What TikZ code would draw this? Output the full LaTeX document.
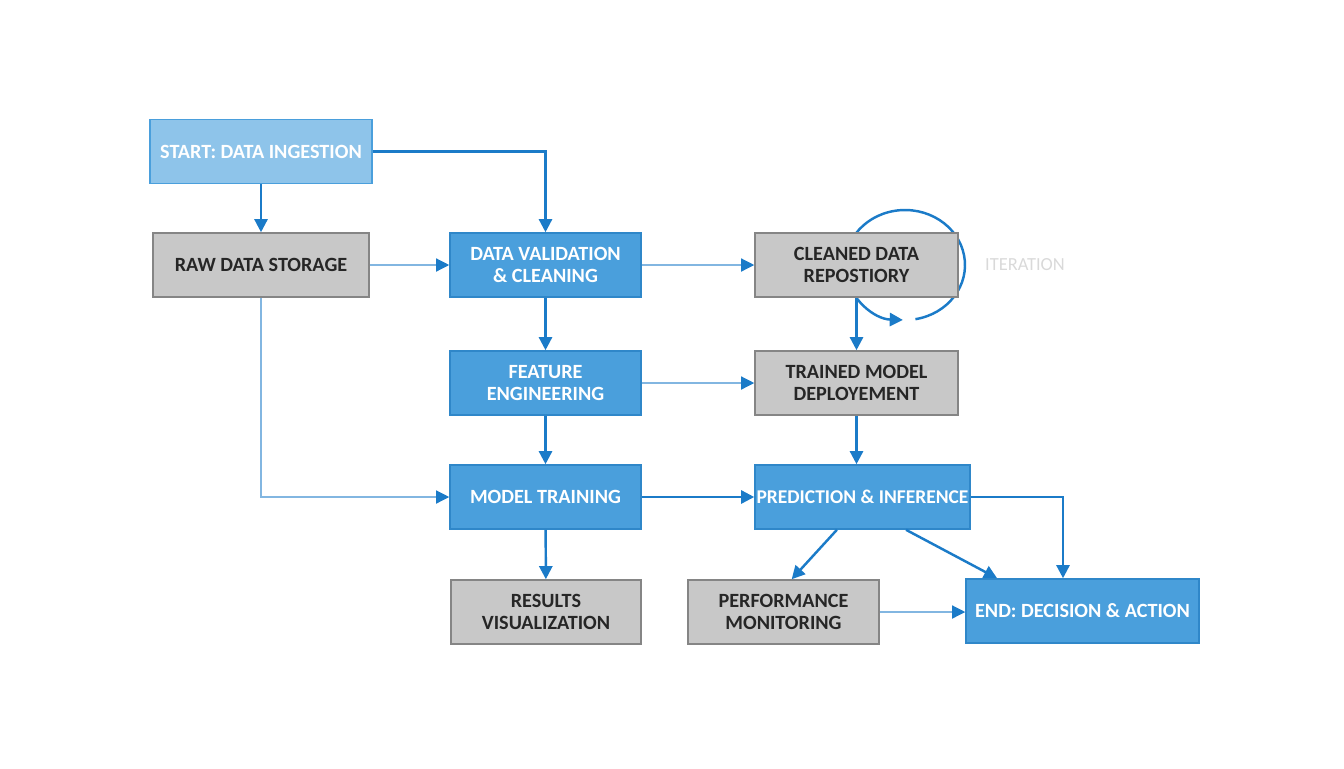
\documentclass[tikz,border=0pt]{standalone}
\usepackage{fontspec}
\setmainfont{Carlito}
\usetikzlibrary{arrows.meta}
\definecolor{flowblue}{HTML}{1B7BC8}
\definecolor{boxblue}{HTML}{4A9FDC}
\definecolor{boxblueline}{HTML}{2F87C9}
\definecolor{startblue}{HTML}{8EC4EA}
\definecolor{boxgray}{HTML}{C8C8C8}
\definecolor{boxgrayline}{HTML}{858585}
\def\boxh{1.28cm}
\def\boxw{3.82cm}
\tikzset{
	stage/.style={draw=boxblueline, fill=boxblue, text=white, font=\bfseries\fontsize{11.5}{13}\selectfont,
		align=center, minimum height=\boxh, minimum width=\boxw, inner sep=2pt, line width=0.9pt},
	store/.style={stage, draw=boxgrayline, fill=boxgray, text=black!85},
	startstage/.style={stage, fill=startblue, draw=boxblue},
	flow/.style={draw=flowblue, line width=1.4pt, -{Triangle[length=7.5pt,width=7.5pt,color=flowblue]}},
	thinflow/.style={flow, line width=0.7pt, draw=flowblue!55}
}

\begin{document}
\begin{tikzpicture}[x=0.02cm, y=-0.02cm]
	\useasboundingbox (0,0) rectangle (1344,768);

	% iteration loop behind the repository box
	\coordinate (loopc) at (905,265);
	\draw[flow] (loopc) ++(-80:1.2cm and 1.1cm)
		arc[start angle=-80, end angle=268, x radius=1.2cm, y radius=1.1cm];
	\node[text=black!15, font=\fontsize{10.5}{12}\selectfont] (iterlabel) at (1025,265) {ITERATION};

	% stages
	\node[startstage, minimum width=4.44cm] (start) at (261,151.5) {START: DATA INGESTION};
	\node[store, minimum width=4.32cm] (raw) at (261,265) {RAW DATA STORAGE};
	\node[stage] (valid) at (545.5,265) {DATA VALIDATION\\\& CLEANING};
	\node[store, minimum width=4.06cm] (cleaned) at (856.5,265) {CLEANED DATA\\REPOSTIORY};
	\node[stage] (feat) at (545.5,383) {FEATURE\\ENGINEERING};
	\node[store, minimum width=4.06cm] (trained) at (856.5,383) {TRAINED MODEL\\DEPLOYEMENT};
	\node[stage] (train) at (545.5,497) {MODEL TRAINING};
	\node[stage, minimum width=4.3cm, inner xsep=0.5pt, font=\bfseries\fontsize{11.1}{13}\selectfont]
		(pred) at (862.5,497) {PREDICTION \& INFERENCE};
	\node[store, minimum width=3.8cm] (results) at (546,612) {RESULTS\\VISUALIZATION};
	\node[store] (perf) at (783.5,612) {PERFORMANCE\\MONITORING};
	\node[stage, minimum width=4.66cm] (end) at (1082.5,611) {END: DECISION \& ACTION};

	% connectors
	\draw[flow] (start) -- (raw);
	\draw[flow] (start.east) -| (valid.north);
	\draw[thinflow] (raw) -- (valid);
	\draw[thinflow] (valid) -- (cleaned);
	\draw[flow] (valid) -- (feat);
	\draw[flow] (feat) -- (train);
	\draw[thinflow] (raw.south) |- (train.west);
	\draw[flow] (cleaned) -- (trained);
	\draw[thinflow] (feat) -- (trained);
	\draw[flow] (trained.south) -- (trained.south |- pred.north);
	\draw[flow] (train) -- (pred);
	\draw[flow] (train) -- (results);
	\draw[flow] (pred.232) -- (perf.76);
	\draw[flow] (pred.323) -- (end.159.8);
	\draw[flow] (pred.east) -| ([xshift=-0.39cm]end.north);
	\draw[thinflow] (perf.east) -- (perf.east -| end.west);
\end{tikzpicture}
\end{document}
